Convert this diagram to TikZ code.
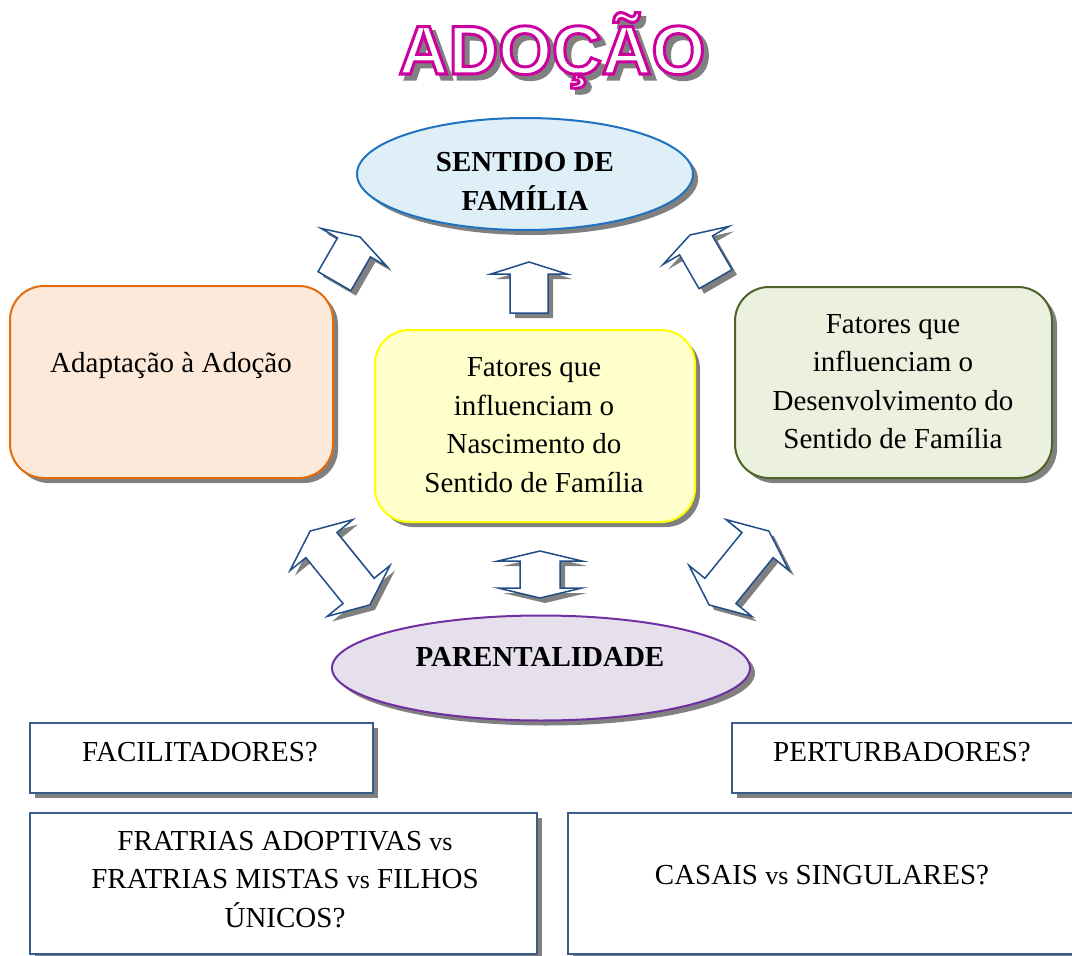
\documentclass[tikz,border=0pt]{standalone}
\usepackage{fontspec}
\setmainfont{Liberation Serif}
\newfontfamily\titlefamily{Liberation Sans}
\usetikzlibrary{shapes.geometric,shadows}
\definecolor{topfill}{HTML}{DEEFF7}
\definecolor{topline}{HTML}{1F73C0}
\definecolor{adfill}{HTML}{FDE9D9}
\definecolor{adline}{HTML}{E46C0A}
\definecolor{yefill}{HTML}{FFFFCC}
\definecolor{yeline}{HTML}{FFFF00}
\definecolor{grfill}{HTML}{EBF1DE}
\definecolor{grline}{HTML}{4F6228}
\definecolor{pufill}{HTML}{E5E0EC}
\definecolor{puline}{HTML}{7030A0}
\definecolor{rectline}{HTML}{385D8A}
\definecolor{arrline}{HTML}{1F4E89}
\definecolor{shadowgray}{HTML}{808080}
\newcommand{\strokedtext}[3]{\special{pdf:literal direct #1 RG 2 Tr #2 w}#3\special{pdf:literal direct 0 Tr}}
\newcommand{\vsm}{{\fontsize{26}{38.5}\selectfont vs}}
\newcommand{\sgarrowpath}{(0,0) -- (38,12) -- (19,12) -- (19,51) -- (-19,51) -- (-19,12) -- (-38,12) -- cycle}
\newcommand{\dblarrowpath}{(0,-47.5) -- (40.5,-29.5) -- (20,-29.5) -- (20,29.5) -- (40.5,29.5) -- (0,47.5) -- (-40.5,29.5) -- (-20,29.5) -- (-20,-29.5) -- (-40.5,-29.5) -- cycle}
\newcommand{\smdblarrowpath}{(0,-23.5) -- (42,-13.5) -- (20,-13.5) -- (20,13.5) -- (42,13.5) -- (0,23.5) -- (-42,13.5) -- (-20,13.5) -- (-20,-13.5) -- (-42,-13.5) -- cycle}
\newcommand{\blockarrow}[4]{%
  \begin{scope}[shift={(#1+5,#2+5)},rotate=#3]\fill[shadowgray] #4;\end{scope}
  \begin{scope}[shift={(#1,#2)},rotate=#3]\filldraw[arrowstyle] #4;\end{scope}}
\begin{document}
\begin{tikzpicture}[x=1pt,y=-1pt,
  shadowed/.style={drop shadow={shadow xshift=5pt,shadow yshift=-5pt,opacity=1,fill=shadowgray}},
  rbox/.style={rectangle,rounded corners=34pt,line width=2pt,shadowed},
  ebox/.style={ellipse,line width=2pt,shadowed,inner sep=0pt},
  qbox/.style={rectangle,draw=rectline,fill=white,line width=1.6pt,shadowed},
  txt/.style={font=\fontsize{29}{38.5}\selectfont,align=center,text=black,inner sep=0pt},
  btxt/.style={font=\fontsize{29}{38.5}\selectfont\bfseries,align=center,text=black,inner sep=0pt},
  titletxt/.style={anchor=base,inner sep=0pt,font=\titlefamily\bfseries\fontsize{69}{70}\selectfont},
  arrowstyle/.style={draw=arrline,fill=white,line width=1.5pt,line join=miter}]
\clip (0,0) rectangle (1072,956);
\fill[white] (0,0) rectangle (1072,956);

% title
\node[titletxt,text=shadowgray] (titleshadow) at (557,79) {\strokedtext{0.5 0.5 0.5}{3}{ADOÇÃO}};
\node[titletxt,text=white] (title) at (552,74) {\strokedtext{0.8 0 0.62}{3}{ADOÇÃO}};

% main shapes
\node[ebox,fill=topfill,draw=topline,minimum width=336pt,minimum height=112pt] (sentido) at (525,174) {};
\node[btxt] (sentidotxt) at (525,181.5) {SENTIDO DE\\FAMÍLIA};

\node[rbox,fill=adfill,draw=adline,minimum width=323pt,minimum height=192pt] (adapt) at (171.5,382) {};
\node[txt] (adapttxt) at (171,365) {Adaptação à Adoção};

\node[rbox,fill=yefill,draw=yeline,minimum width=320pt,minimum height=192pt] (nasc) at (535,426) {};
\node[txt] (nasctxt) at (534,425.3) {Fatores que\\influenciam o\\Nascimento do\\Sentido de Família};

\node[rbox,fill=grfill,draw=grline,minimum width=317pt,minimum height=191pt] (desenv) at (893.5,382.5) {};
\node[txt] (desenvtxt) at (893,381.8) {Fatores que\\influenciam o\\Desenvolvimento do\\Sentido de Família};

\node[ebox,fill=pufill,draw=puline,minimum width=418pt,minimum height=105pt] (parent) at (541,668) {};
\node[btxt] (parenttxt) at (540,657) {PARENTALIDADE};

% question boxes
\node[qbox,minimum width=343pt,minimum height=70pt] (facil) at (201.5,758) {};
\node[txt] (faciltxt) at (200,752) {FACILITADORES?};

\node[qbox,minimum width=358pt,minimum height=70pt] (pert) at (911,758) {};
\node[txt] (perttxt) at (902,752) {PERTURBADORES?};

\node[qbox,minimum width=507pt,minimum height=141pt] (frat) at (283.5,883.5) {};
\node[txt] (frattxt) at (285,879.5) {FRATRIAS ADOPTIVAS \vsm\\FRATRIAS MISTAS \vsm{} FILHOS\\ÚNICOS?};

\node[qbox,minimum width=522pt,minimum height=141pt] (casais) at (829,883.5) {};
\node[txt] (casaistxt) at (822,875) {CASAIS \vsm{} SINGULARES?};

% block arrows
\blockarrow{529}{262}{0}{\sgarrowpath}
\blockarrow{360}{237}{-30}{\sgarrowpath}
\blockarrow{690}{235}{30}{\sgarrowpath}
\blockarrow{340}{568}{39}{\dblarrowpath}
\blockarrow{739}{568}{-39}{\dblarrowpath}
\blockarrow{540}{574.5}{0}{\smdblarrowpath}
\end{tikzpicture}
\end{document}
